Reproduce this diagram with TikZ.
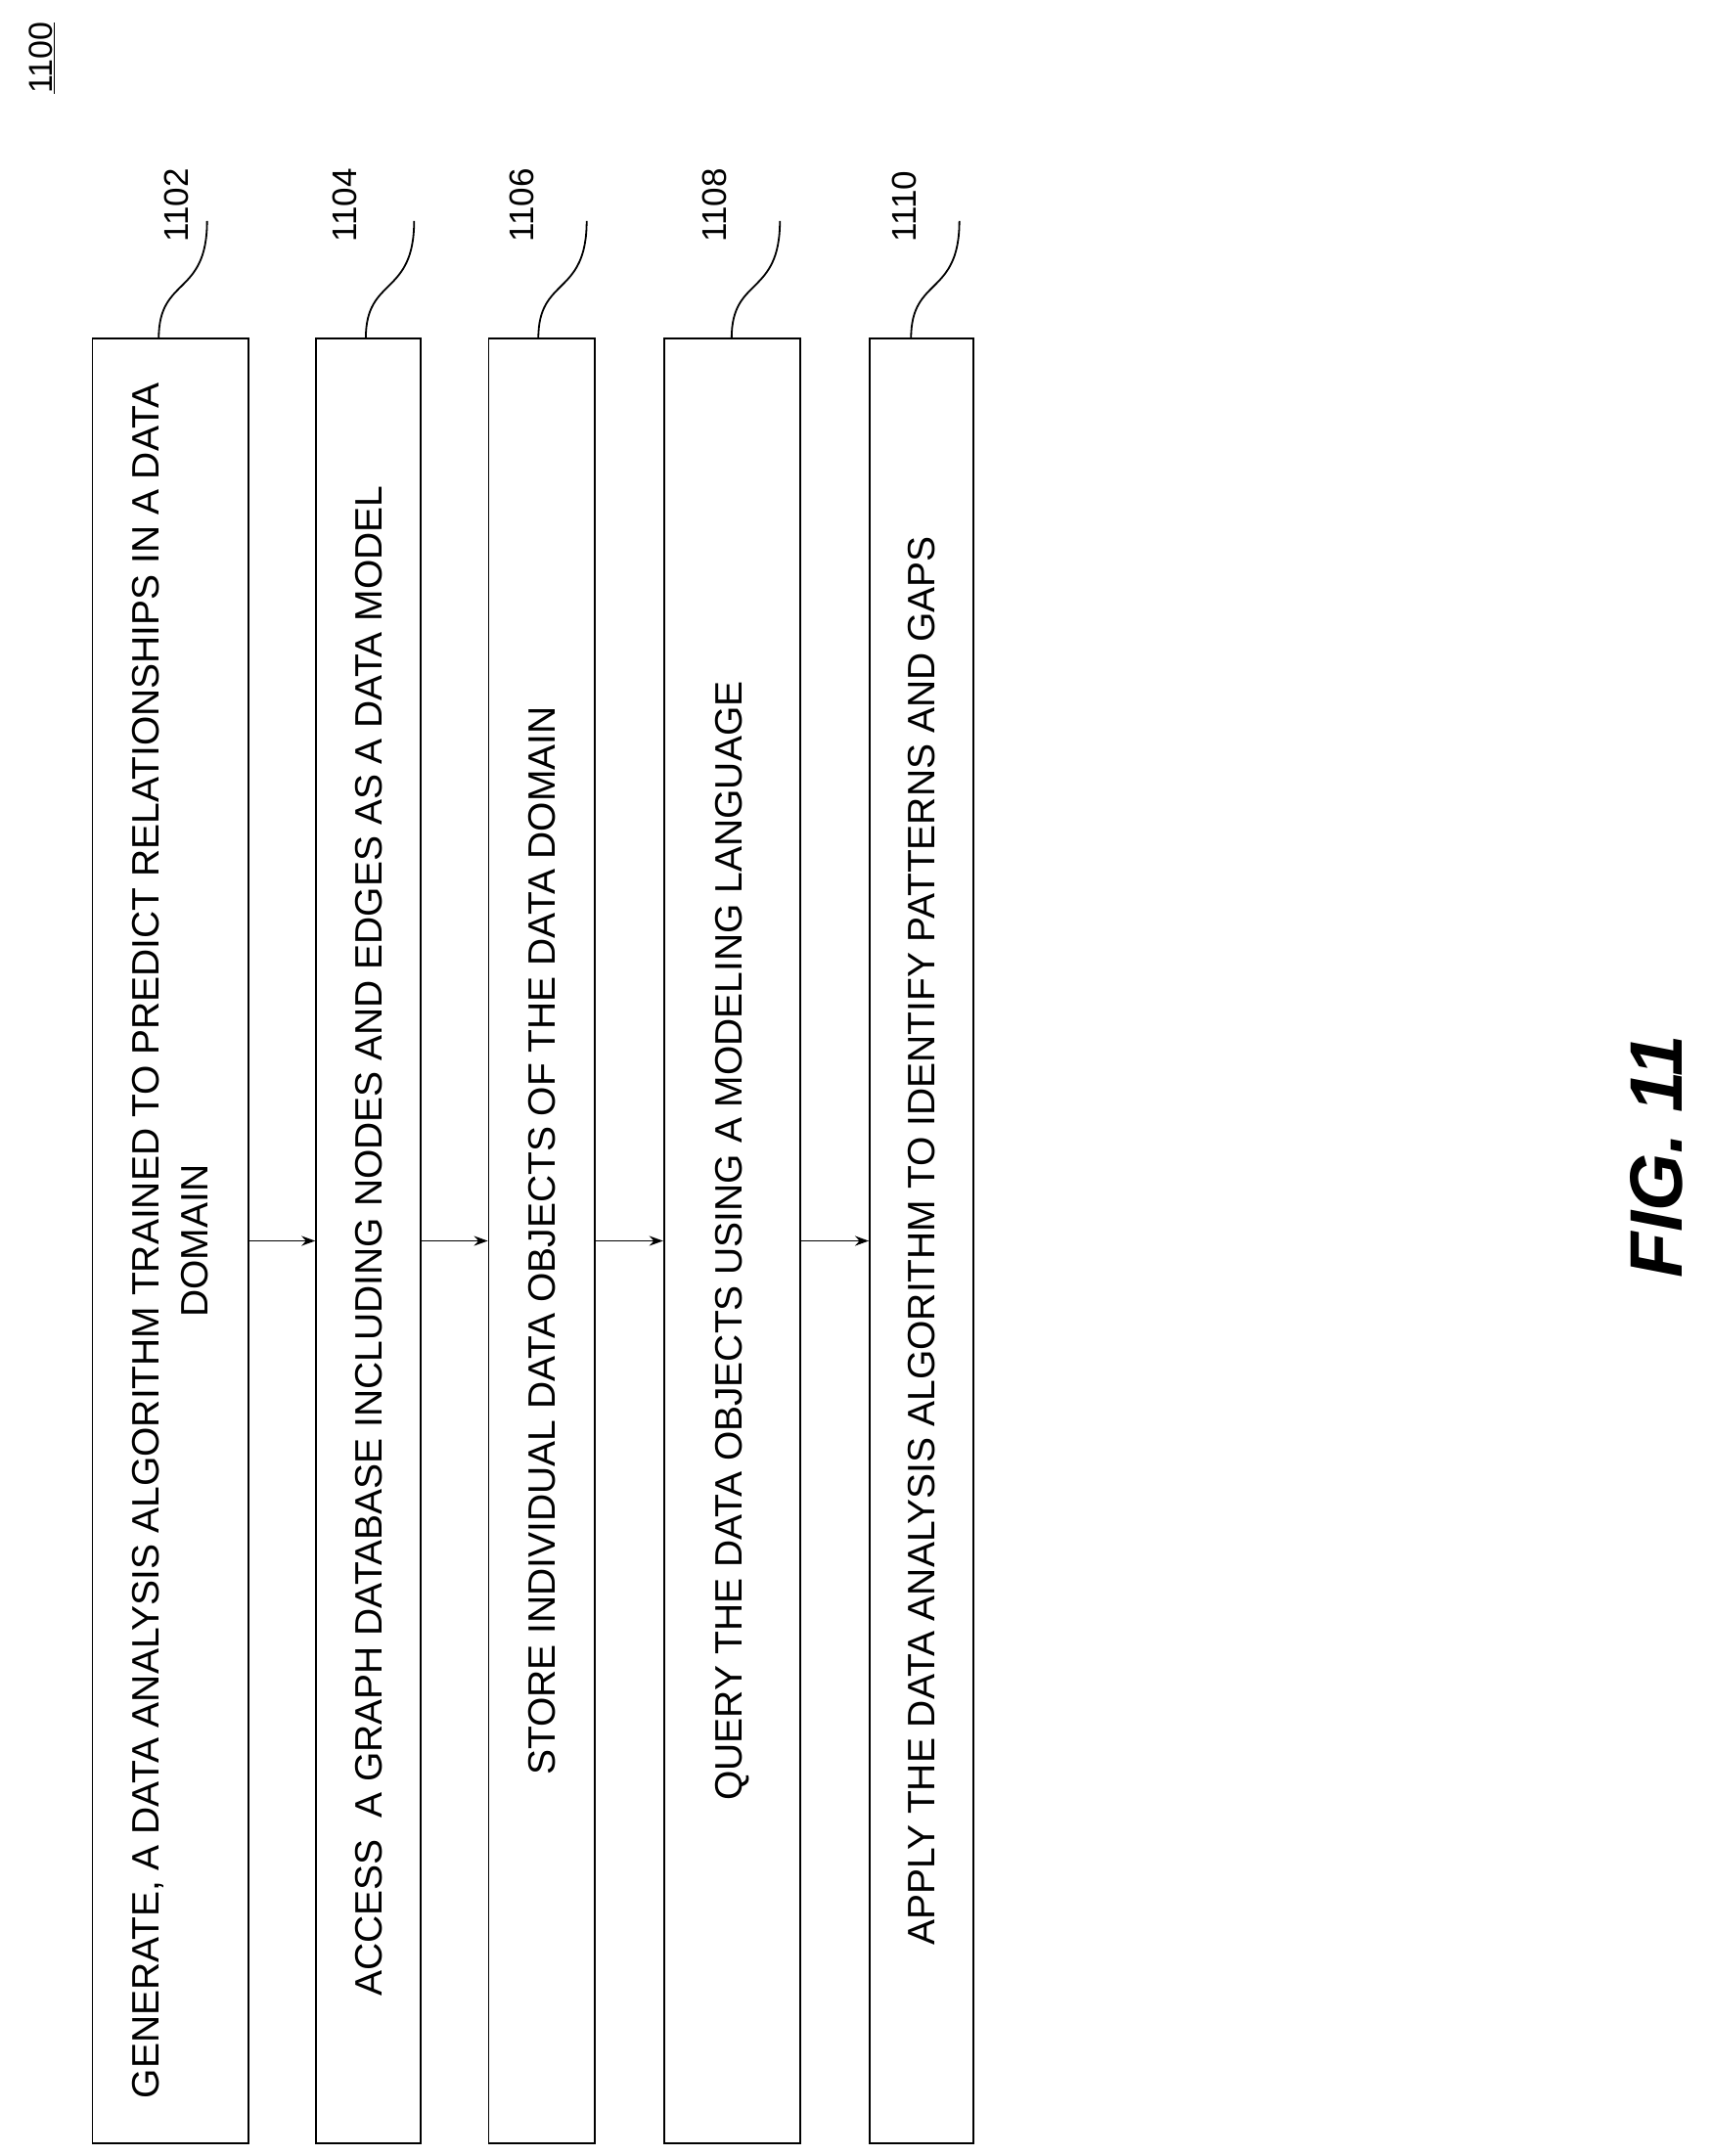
\documentclass[tikz,border=0pt]{standalone}
\usepackage{fontspec}
\setmainfont{Liberation Sans}
\usetikzlibrary{arrows.meta}
\begin{document}
\begin{tikzpicture}[x=1.4113pt,y=-1.4113pt,
  box/.style={draw,line width=1.8pt,inner sep=0pt},
  txt/.style={rotate=90,font=\fontsize{39}{50}\selectfont,align=center},
  lab/.style={rotate=90,font=\fontsize{35}{40}\selectfont},
  lead/.style={line width=1.8pt},
  conn/.style={line width=1.8pt,-{Stealth[length=14pt,width=10pt]}}]
\useasboundingbox (0,0) rectangle (1240,1562);
\node[box,minimum width=113*1.4113pt,minimum height=1308*1.4113pt] (b1) at (123.5,899) {};
\node[box,minimum width=76*1.4113pt,minimum height=1308*1.4113pt] (b2) at (267,899) {};
\node[box,minimum width=77*1.4113pt,minimum height=1308*1.4113pt] (b3) at (392.5,899) {};
\node[box,minimum width=99*1.4113pt,minimum height=1308*1.4113pt] (b4) at (530.5,899) {};
\node[box,minimum width=75*1.4113pt,minimum height=1308*1.4113pt] (b5) at (667.5,899) {};
\node[txt] (t1) at (b1) {GENERATE, A DATA ANALYSIS ALGORITHM TRAINED TO PREDICT RELATIONSHIPS IN A DATA\\DOMAIN};
\node[txt] (t2) at (b2) {ACCESS\ \ A GRAPH DATABASE INCLUDING NODES AND EDGES AS A DATA MODEL};
\node[txt] (t3) at (b3) {STORE INDIVIDUAL DATA OBJECTS OF THE DATA DOMAIN};
\node[txt] (t4) at (b4) {QUERY THE DATA OBJECTS USING A MODELING LANGUAGE};
\node[txt] (t5) at (b5) {APPLY THE DATA ANALYSIS ALGORITHM TO IDENTIFY PATTERNS AND GAPS};
\draw[conn] (b1.east) -- (b2.west);
\draw[conn] (b2.east) -- (b3.west);
\draw[conn] (b3.east) -- (b4.west);
\draw[conn] (b4.east) -- (b5.west);
\foreach \i/\x/\lx/\n in {1/115/128/1102,2/265/250/1104,3/390/378/1106,4/530/518/1108,5/660/655/1110}{
  \coordinate (s\i) at (\x,245);
  \coordinate (e\i) at (\x+35,160);
  \draw[lead] (s\i) .. controls (\x,200) and (\x+35,215) .. (e\i);
  \node[lab,anchor=west] (l\i) at (\lx,178) {\n};
}
\node[rotate=90,font=\fontsize{34}{40}\selectfont] (n1100) at (30,42) {\underline{1100}};
\node[rotate=90,font=\fontsize{76}{90}\selectfont\bfseries\itshape] (fig) at (1200,838) {FIG. 11};
\end{tikzpicture}
\end{document}
